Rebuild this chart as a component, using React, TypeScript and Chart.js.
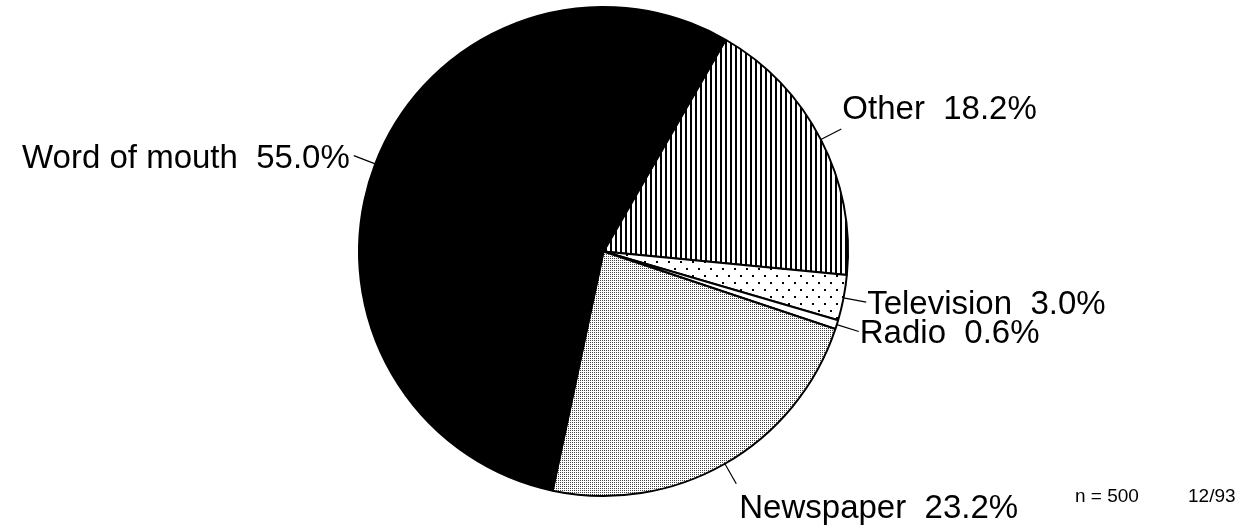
import React, { useEffect, useRef } from "react";
import { Chart, registerables } from "chart.js";

Chart.register(...registerables);

const categories = ["Other", "Television", "Radio", "Newspaper", "Word of mouth"];
const shares = [18.2, 3.0, 0.6, 23.2, 55.0];
const footNotes = ["n = 500", "12/93"];

const FONT = '"Liberation Sans", Arial, Helvetica, sans-serif';

function makePattern(kind: string): CanvasPattern | string {
  const c = document.createElement("canvas");
  const ctx = c.getContext("2d")!;
  if (kind === "stripes") {
    c.width = 5;
    c.height = 4;
    ctx.fillStyle = "#ffffff";
    ctx.fillRect(0, 0, 5, 4);
    ctx.fillStyle = "#000000";
    ctx.fillRect(0, 0, 2, 4);
  } else if (kind === "dots") {
    c.width = 12;
    c.height = 14;
    ctx.fillStyle = "#ffffff";
    ctx.fillRect(0, 0, 12, 14);
    ctx.fillStyle = "#000000";
    ctx.fillRect(2, 2, 2, 2);
    ctx.fillRect(8, 9, 2, 2);
  } else if (kind === "stipple") {
    c.width = 2;
    c.height = 2;
    ctx.fillStyle = "#ffffff";
    ctx.fillRect(0, 0, 2, 2);
    ctx.fillStyle = "#444444";
    ctx.fillRect(0, 0, 1, 1);
  } else {
    return "#ffffff";
  }
  return ctx.createPattern(c, "repeat")!;
}

const labelPlugin = {
  id: "leaderLabels",
  afterDatasetsDraw(chart: any) {
    const ctx = chart.ctx as CanvasRenderingContext2D;
    const meta = chart.getDatasetMeta(0);
    ctx.save();
    ctx.fillStyle = "#000";
    ctx.strokeStyle = "#000";
    ctx.lineWidth = 1.2;
    ctx.font = `33px ${FONT}`;
    ctx.textBaseline = "alphabetic";
    meta.data.forEach((arc: any, i: number) => {
      const p = arc.getProps(["x", "y", "startAngle", "endAngle", "outerRadius"], true);
      const mid = (p.startAngle + p.endAngle) / 2;
      const cx = Math.cos(mid);
      const sy = Math.sin(mid);
      const r0 = p.outerRadius;
      const r1 = p.outerRadius + 23;
      const x0 = p.x + cx * r0;
      const y0 = p.y + sy * r0;
      const x1 = p.x + cx * r1;
      const y1 = p.y + sy * r1;
      ctx.beginPath();
      ctx.moveTo(x0, y0);
      ctx.lineTo(x1, y1);
      ctx.stroke();
      const text = `${categories[i]}  ${shares[i].toFixed(1)}%`;
      let tx = x1;
      let ty = y1;
      if (cx > 0.3) {
        ctx.textAlign = "left";
        tx = x1 + (sy > 0.7 ? 3 : 1);
      } else if (cx < -0.3) {
        ctx.textAlign = "right";
        tx = x1 - 4;
      } else {
        ctx.textAlign = "center";
      }
      if (sy < -0.4) {
        ty = y1 - 10;
      } else if (sy > 0.7) {
        ty = y1 + 34;
      } else {
        ty = y1 + 12;
      }
      ctx.fillText(text, tx, ty);
    });
    ctx.font = `19px ${FONT}`;
    ctx.textAlign = "left";
    ctx.fillText(footNotes[0], 1075, 502);
    ctx.fillText(footNotes[1], 1188, 502);
    ctx.restore();
  },
};

export default function App() {
  const ref = useRef<HTMLCanvasElement>(null);
  useEffect(() => {
    document.body.style.margin = "0";
    const fills = [
      makePattern("stripes"),
      makePattern("dots"),
      "#ffffff",
      makePattern("stipple"),
      "#000000",
    ];
    const chart = new Chart(ref.current!, {
      type: "pie",
      data: {
        labels: categories,
        datasets: [
          {
            data: shares,
            backgroundColor: fills as any,
            borderColor: "#000000",
            borderWidth: 2,
          },
        ],
      },
      options: {
        responsive: false,
        animation: false,
        rotation: 30,
        layout: { padding: { left: 358, right: 400, top: 6, bottom: 32 } },
        plugins: {
          legend: { display: false },
          tooltip: { enabled: false },
        },
      },
      plugins: [labelPlugin],
    });
    return () => chart.destroy();
  }, []);
  return (
    <div style={{ position: "absolute", left: 0, top: 0, width: 1249, height: 529, background: "#fff" }}>
      <canvas ref={ref} width={1249} height={529} style={{ display: "block" }} />
    </div>
  );
}
